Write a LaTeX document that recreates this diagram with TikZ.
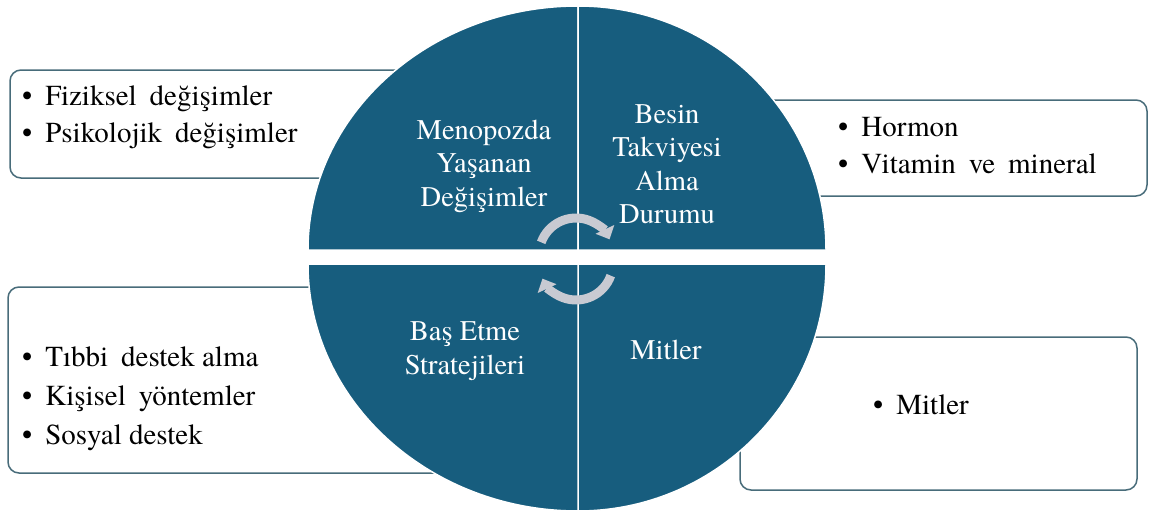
\documentclass[tikz,border=0pt]{standalone}
\usepackage{fontspec}
\setmainfont{TeX Gyre Termes}
\usetikzlibrary{arrows.meta}

\definecolor{quadrantblue}{RGB}{23,93,126}
\definecolor{boxline}{RGB}{72,108,122}
\definecolor{cyclegrey}{RGB}{200,202,210}

\newcommand\listdot{\textbullet\hspace{13pt}}
\newcommand\widegap{\hspace{13pt}}

\begin{document}
\begin{tikzpicture}[x=1pt, y=-1pt,
  listbox/.style = {rectangle, draw=boxline, line width=1.5pt, rounded corners=11pt, fill=white},
  listtext/.style = {anchor=west, align=left, inner sep=0pt, font=\fontsize{29}{37}\selectfont},
  quadrant/.style = {fill=quadrantblue, draw=white, line width=1.5pt},
  quadranttext/.style = {align=center, text=white, inner sep=0pt, font=\fontsize{28.5}{33.5}\selectfont},
  cyclearrow/.style = {draw=cyclegrey, line width=9pt, -{Triangle[width=20pt, length=11pt]}}]

  \useasboundingbox (0, 0) rectangle (1149, 514);

  % Boxes, partly hidden behind the circle.
  \node at (220, 124) [listbox, minimum width=420pt, minimum height=108pt, name=ChangesBox] {};
  \node at (923.5, 148) [listbox, minimum width=447pt, minimum height=96pt, name=SupplementBox] {};
  \node at (244, 380) [listbox, minimum width=472pt, minimum height=186pt, name=CopingBox] {};
  \node at (938.5, 413.5) [listbox, minimum width=397pt, minimum height=153pt, name=MythsBox] {};

  % Quadrants of the circle.
  \path [quadrant] (578, 250) -- (308, 250)
        arc [start angle=180, end angle=270, x radius=270, y radius=244] -- cycle;
  \path [quadrant] (578, 250) -- (578, 6)
        arc [start angle=270, end angle=360, x radius=248, y radius=244] -- cycle;
  \path [quadrant] (578, 264) -- (826, 264)
        arc [start angle=0, end angle=90, x radius=248, y radius=247] -- cycle;
  \path [quadrant] (578, 264) -- (578, 511)
        arc [start angle=90, end angle=180, x radius=270, y radius=247] -- cycle;

  % Cycle in the middle.
  \coordinate (TopHub) at (576, 255);
  \coordinate (BottomHub) at (576, 263);
  \draw [cyclearrow] ([shift={(200:37)}]TopHub)
        arc [start angle=200, end angle=335, radius=37];
  \draw [cyclearrow] ([shift={(20:37)}]BottomHub)
        arc [start angle=20, end angle=155, radius=37];

  % Quadrant labels.
  \node at (484, 166) [quadranttext, name=ChangesLabel] {Menopozda\\Yaşanan\\Değişimler};
  \node at (667, 164) [quadranttext, name=SupplementLabel] {Besin\\Takviyesi\\Alma\\Durumu};
  \node at (465, 351) [quadranttext, name=CopingLabel] {Baş Etme\\Stratejileri};
  \node at (666, 350) [quadranttext, name=MythsLabel] {Mitler};

  % Lists.
  \node at (22, 117) [listtext, name=ChangesList]
        {\listdot Fiziksel\widegap değişimler\\ \listdot Psikolojik\widegap değişimler};
  \node at (838, 146) [listtext, name=SupplementList]
        {\listdot Hormon\\ \listdot Vitamin\widegap ve\widegap mineral};
  \node at (22, 399) [listtext, name=CopingList]
        {\listdot Tıbbi\widegap destek alma\\[2pt] \listdot Kişisel\widegap yöntemler\\[2pt] \listdot Sosyal destek};
  \node at (873, 405) [listtext, name=MythsList] {\listdot Mitler};
\end{tikzpicture}
\end{document}
